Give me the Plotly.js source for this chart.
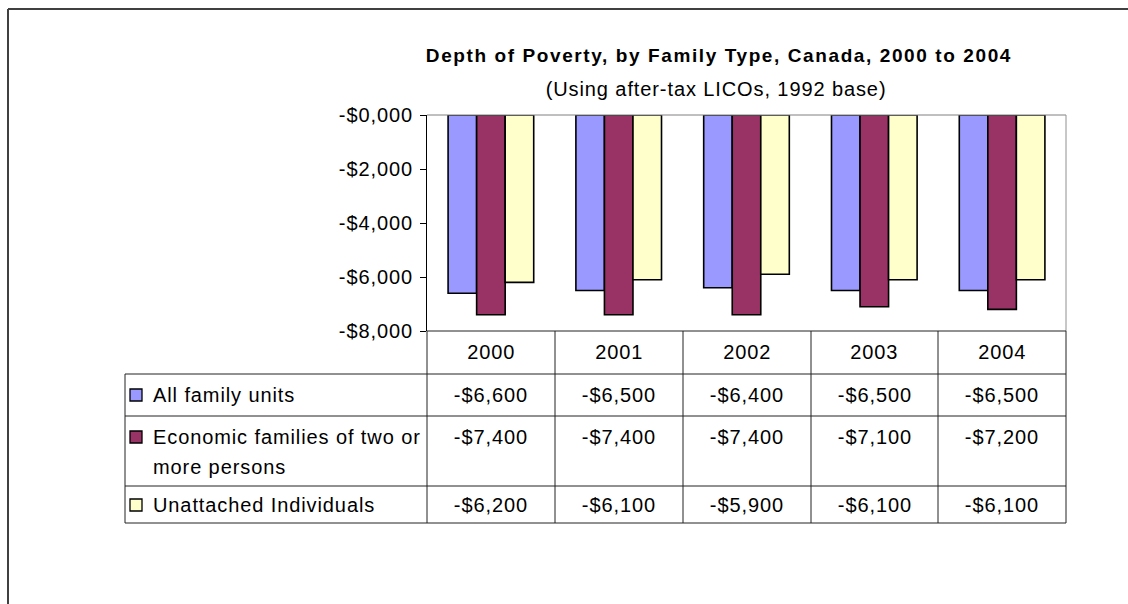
<!DOCTYPE html>
<html>
<head>
<meta charset="utf-8">
<script src="https://cdn.plot.ly/plotly-3.0.1.min.js"></script>
<style>html,body{margin:0;padding:0;background:#fff;}#chart{width:1128px;height:604px;}
#chart text{letter-spacing:0.9px;}
#chart .annotation.title-main text{letter-spacing:1.6px;}</style>
</head>
<body>
<div id="chart"></div>
<script>
const years = ['2000', '2001', '2002', '2003', '2004'];
const allFamilyUnits = [-6600, -6500, -6400, -6500, -6500];
const economicFamilies = [-7400, -7400, -7400, -7100, -7200];
const unattachedIndividuals = [-6200, -6100, -5900, -6100, -6100];
const seriesNames = ['All family units', 'Economic families of two or<br>more persons', 'Unattached Individuals'];
const yTickVals = [0, -2000, -4000, -6000, -8000];
const yTickText = ['-$0,000', '-$2,000', '-$4,000', '-$6,000', '-$8,000'];

const colors = ['#9999FF', '#993366', '#FFFFCC'];
const seriesValues = [allFamilyUnits, economicFamilies, unattachedIndividuals];
const FONT = 'Liberation Sans, Arial, sans-serif';

// pixel geometry helpers
const L = 427, R = 1066, T = 115, B = 331, W = 1128, H = 604;
const px = x => (x - L) / (R - L);
const py = y => (B - y) / (B - T);

function fmt(v) {
  const a = Math.abs(v);
  const s = a.toLocaleString('en-US');
  return (v < 0 ? '-$' : '$') + s;
}

const traces = seriesValues.map((vals, i) => ({
  type: 'bar',
  x: years,
  y: vals,
  name: seriesNames[i],
  marker: {color: colors[i], line: {color: '#000000', width: 1.6}},
  showlegend: false,
  hoverinfo: 'skip'
}));

const shapes = [];
const annotations = [];
const line = (x0, y0, x1, y1, color, width) => shapes.push({
  type: 'line', xref: 'paper', yref: 'paper',
  x0: px(x0), y0: py(y0), x1: px(x1), y1: py(y1),
  line: {color: color || '#222222', width: width || 1}
});

// outer border
line(8, 9, W + 5, 9, '#404040', 2);
line(8, 9, 8, H + 5, '#404040', 2);
// plot area border (grey)
line(L, T, R, T, '#808080', 1);
line(R, T, R, B, '#909090', 1);

// table geometry
const colEdges = [427, 555, 683, 811, 938, 1066];
const rowEdges = [331, 374, 416, 486, 523];
const tableLeft = 125;
line(L, rowEdges[0], R, rowEdges[0], '#222222', 1);
for (let r = 1; r < rowEdges.length; r++) line(tableLeft, rowEdges[r], R, rowEdges[r], '#222222', 1);
colEdges.forEach(x => line(x, rowEdges[0], x, rowEdges[4], '#222222', 1));
line(tableLeft, rowEdges[1], tableLeft, rowEdges[4], '#222222', 1);

const fontReg = {family: FONT, size: 20, color: '#000000'};
const ann = (x, y, text, opts) => annotations.push(Object.assign({
  xref: 'paper', yref: 'paper', x: px(x), y: py(y), text: text,
  showarrow: false, font: fontReg, xanchor: 'center', yanchor: 'middle'
}, opts || {}));

// year header
years.forEach((yr, i) => ann((colEdges[i] + colEdges[i + 1]) / 2, 352, yr));

// rows
const rowTextY = [395, 437, 505];
seriesValues.forEach((vals, r) => {
  vals.forEach((v, i) => ann((colEdges[i] + colEdges[i + 1]) / 2, rowTextY[r], fmt(v)));
  shapes.push({
    type: 'rect', xref: 'paper', yref: 'paper',
    x0: px(130), x1: px(142), y0: py(rowTextY[r] - 6), y1: py(rowTextY[r] + 6),
    fillcolor: colors[r], line: {color: '#000000', width: 1.3}
  });
});
const leftOpts = {xanchor: 'left', align: 'left'};
ann(151, 395, seriesNames[0], leftOpts);
ann(151, 437, 'Economic families of two or', leftOpts);
ann(151, 467, 'more persons', leftOpts);
ann(151, 505, seriesNames[2], leftOpts);

// titles
ann(719, 55, '<b>Depth of Poverty, by Family Type, Canada, 2000 to 2004</b>', {font: {family: FONT, size: 19, color: '#000'}});
ann(716, 89, '(Using after-tax LICOs, 1992 base)', {font: {family: FONT, size: 20, color: '#000'}});

const layout = {
  width: W, height: H,
  margin: {l: L, r: W - R, t: T, b: H - B, pad: 0},
  paper_bgcolor: '#ffffff', plot_bgcolor: '#ffffff',
  barmode: 'group', bargap: 0.33, bargroupgap: 0,
  showlegend: false,
  xaxis: {showticklabels: false, showgrid: false, zeroline: false, showline: false, ticks: ''},
  yaxis: {
    range: [-8000, 0], tickvals: yTickVals, ticktext: yTickText,
    ticks: 'outside', ticklen: 6, tickcolor: '#000', tickwidth: 1,
    showline: true, linecolor: '#000', linewidth: 1,
    showgrid: false, zeroline: false,
    tickfont: {family: FONT, size: 20, color: '#000'}, ticklabelstandoff: 3
  },
  shapes: shapes,
  annotations: annotations,
  font: {family: FONT}
};

Plotly.newPlot('chart', traces, layout, {staticPlot: true, displayModeBar: false}).then(gd => {
  // wider tracking on the bold main title, as in the reference
  const anns = gd.querySelectorAll('.annotation');
  const idx = annotations.length - 2;
  if (anns[idx]) anns[idx].classList.add('title-main');
});
</script>
</body>
</html>
